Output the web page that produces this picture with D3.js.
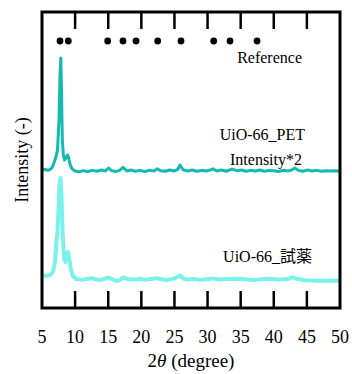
<!DOCTYPE html>
<html lang="en">
<head>
<meta charset="utf-8">
<script src="https://cdn.jsdelivr.net/npm/d3@7"></script>
</head>
<body style="margin:0">
<script>
// reference peak positions (2theta)
var refPeaks = [7.72, 8.97, 14.92, 17.23, 19.2, 22.47, 25.99, 30.93, 33.39, 37.47];

// UiO-66_PET (intensity*2, offset)
var petX = [5.0, 5.5, 5.9, 6.2, 6.5, 6.8, 7.1, 7.34, 7.57, 7.72, 7.84, 7.94, 8.07, 8.22, 8.4, 8.62, 8.85, 9.0, 9.23, 9.53,
  9.98, 10.6, 11.2, 11.9, 12.6, 13.3, 14.0, 14.6, 15.07, 15.5, 16.1, 16.7, 17.23, 17.8, 18.4, 19.1, 19.8, 20.5, 21.2,
  21.9, 22.37, 22.9, 23.6, 24.3, 25.0, 25.5, 25.84, 26.3, 27.0, 27.7, 28.4, 29.1, 29.8, 30.4, 30.82, 31.4, 32.1,
  32.8, 33.7, 34.4, 35.1, 35.8, 36.5, 37.2, 37.9, 38.6, 39.3, 40.0, 40.7, 41.4, 42.1, 42.7, 43.2, 43.7, 44.4, 45.1,
  45.8, 46.5, 47.2, 47.9, 48.6, 49.3, 50.0];
var petY = [46.6, 46.8, 46.5, 46.8, 47.3, 49.0, 51.0, 53.4, 63.5, 78.7, 84.5, 73.6, 56.8, 51.7, 50.0, 50.7, 51.7, 51.0, 48.6, 47.0,
  46.3, 46.0, 46.4, 46.1, 46.5, 46.2, 46.6, 46.3, 47.3, 46.4, 46.1, 46.5, 47.5, 46.3, 46.6, 46.2, 46.5, 46.1, 46.5,
  46.3, 47.0, 46.4, 46.2, 46.6, 46.3, 46.8, 48.3, 46.7, 46.3, 46.6, 46.2, 46.5, 46.3, 46.6, 47.0, 46.3, 46.6,
  46.2, 46.9, 46.4, 46.6, 46.2, 46.5, 46.3, 46.6, 46.2, 46.5, 46.4, 46.1, 46.5, 46.3, 46.6, 47.3, 46.5, 46.2, 46.6,
  46.3, 46.5, 46.2, 46.4, 46.3, 46.4, 46.3];

// UiO-66_reagent
var reaX = [5.0, 5.6, 6.2, 6.66, 6.96, 7.19, 7.34, 7.49, 7.64, 7.79, 7.94, 8.1, 8.32, 8.55, 8.78, 8.93, 9.15, 9.38, 9.68,
  10.13, 11.04, 11.8, 12.55, 13.2, 13.76, 14.4, 15.07, 15.7, 16.33, 16.8, 17.23, 18.1, 19.04, 19.8, 20.55, 21.5,
  22.37, 23.2, 24.03, 25.0, 25.84, 26.4, 27.05, 28.0, 28.86, 29.8, 30.82, 31.7, 32.6, 33.8, 34.9, 36.0, 37.2, 38.3,
  39.4, 40.5, 41.7, 42.3, 42.9, 43.5, 43.96, 44.7, 45.5, 46.6, 47.7, 48.8, 50.0];
var reaY = [11.1, 10.8, 11.1, 12.2, 15.5, 23.0, 25.7, 33.1, 41.6, 43.9, 38.2, 26.4, 16.9, 15.5, 17.9, 18.9, 16.2, 12.8, 10.8,
  9.8, 9.5, 9.8, 10.1, 9.6, 9.5, 9.8, 10.3, 9.6, 9.1, 9.5, 10.3, 9.7, 9.6, 9.9, 9.5, 9.8,
  10.1, 9.6, 9.5, 10.0, 11.0, 9.9, 9.6, 9.8, 9.5, 9.7, 10.0, 9.6, 9.7, 9.8, 9.9, 9.6, 9.5, 9.7,
  9.9, 9.6, 9.7, 9.9, 10.4, 9.8, 9.7, 9.4, 9.3, 9.2, 9.1, 9.3, 9.2];

var xTicks = [5, 10, 15, 20, 25, 30, 35, 40, 45, 50];

var margin = {top: 12, right: 12, bottom: 66, left: 42},
    W = 352, H = 374,
    width = W - margin.left - margin.right,
    height = H - margin.top - margin.bottom;

var svg = d3.select("body").append("svg")
  .attr("width", W).attr("height", H);

var g = svg.append("g")
  .attr("transform", "translate(" + margin.left + "," + margin.top + ")");

var x = d3.scaleLinear().domain([5, 50]).range([0, width]);
var y = d3.scaleLinear().domain([0, 100]).range([height, 0]);

// ticks inside, top and bottom
var tickLen = 17;
g.selectAll(".tb").data(xTicks.slice(1, -1)).enter().append("line")
  .attr("x1", x).attr("x2", x)
  .attr("y1", height).attr("y2", height - tickLen)
  .attr("stroke", "#000").attr("stroke-width", 2.5);
g.selectAll(".tt").data(xTicks.slice(1, -1)).enter().append("line")
  .attr("x1", x).attr("x2", x)
  .attr("y1", 0).attr("y2", tickLen)
  .attr("stroke", "#000").attr("stroke-width", 2.5);

// tick labels
g.selectAll(".tl").data(xTicks).enter().append("text")
  .attr("x", x).attr("y", height + 35)
  .attr("text-anchor", "middle")
  .style("font-family", function() { return "'Liberation Serif'"; })
  .style("font-size", "18px")
  .text(function(d) { return d; });

var line = d3.line()
  .x(function(d) { return x(d[0]); })
  .y(function(d) { return y(d[1]); });

var rea = d3.zip(reaX, reaY);
var pet = d3.zip(petX, petY);

g.append("path").datum(rea)
  .attr("d", line).attr("fill", "none")
  .attr("stroke", "#7AF2EC").attr("stroke-width", 4)
  .attr("stroke-linejoin", "round");

g.append("path").datum(pet)
  .attr("d", line).attr("fill", "none")
  .attr("stroke", "#14B9B0").attr("stroke-width", 3)
  .attr("stroke-linejoin", "round");

// reference peak markers
g.selectAll(".dot").data(refPeaks).enter().append("circle")
  .attr("cx", x).attr("cy", 29).attr("r", 3.4).attr("fill", "#000");

// labels
var labels = [
  {x: 260, y: 51, t: "Reference"},
  {x: 263, y: 128, t: "UiO-66_PET"},
  {x: 260, y: 153, t: "Intensity*2"},
  {x: 238, y: 250, t: "UiO-66_"}
];
g.selectAll(".lab").data(labels).enter().append("text")
  .attr("x", function(d) { return d.x; })
  .attr("y", function(d) { return d.y; })
  .attr("text-anchor", "end")
  .style("font-family", function() { return "'Liberation Serif'"; })
  .style("font-size", "16px")
  .text(function(d) { return d.t; });

g.append("text").attr("x", 270).attr("y", 250).attr("text-anchor", "end")
  .style("font-family", "'Noto Sans CJK JP'").style("font-size", "16px")
  .text("試薬");

// frame
g.append("rect").attr("width", width).attr("height", height)
  .attr("fill", "none").attr("stroke", "#000").attr("stroke-width", 3);

// axis titles
var xt = svg.append("text")
  .attr("x", margin.left + width / 2).attr("y", 367)
  .attr("text-anchor", "middle")
  .style("font-family", "'Liberation Serif'").style("font-size", "19px");
xt.append("tspan").text("2");
xt.append("tspan").style("font-style", "italic").text("θ");
xt.append("tspan").text(" (degree)");

svg.append("text")
  .attr("transform", "translate(28," + (margin.top + height / 2) + ") rotate(-90)")
  .attr("text-anchor", "middle")
  .style("font-family", "'Liberation Serif'").style("font-size", "18px")
  .text("Intensity (-)");
</script>
</body>
</html>
